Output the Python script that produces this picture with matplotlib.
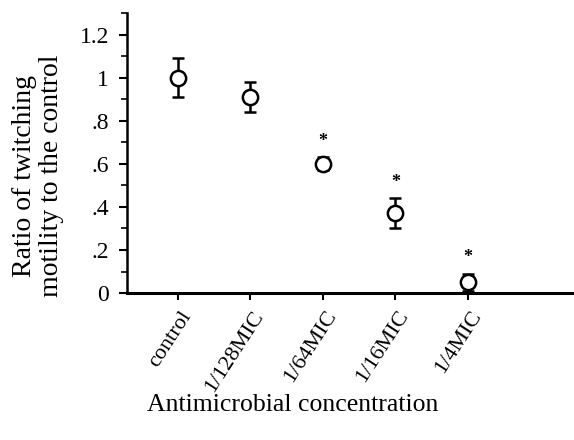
import numpy as np
import matplotlib.pyplot as plt
from matplotlib.ticker import MultipleLocator

plt.rcParams['font.family'] = ['Liberation Serif', 'DejaVu Serif']

# data
groups = ['control', '1/128MIC', '1/64MIC', '1/16MIC', '1/4MIC']
ratio = [1.00, 0.91, 0.60, 0.37, 0.05]
err = [0.09, 0.07, 0.03, 0.07, 0.04]
signif = [False, False, True, True, True]
ytick_vals = [0, 0.2, 0.4, 0.6, 0.8, 1.0, 1.2]
ytick_text = ['0', '.2', '.4', '.6', '.8', '1', '1.2']

fig = plt.figure(figsize=(5.74, 4.4), dpi=100)
ax = fig.add_axes([0.221, 0.334, 0.779, 0.636])

x = np.arange(1, len(groups) + 1)
ax.errorbar(x, ratio, yerr=err, fmt='o', mfc='white', mec='black', ms=11,
            mew=1.8, ecolor='black', elinewidth=1.8, capsize=4.5, capthick=2)
for xi, yi, e, s in zip(x, ratio, err, signif):
    if s:
        ax.text(xi, yi + e + 0.035, '*', ha='center', va='bottom', fontsize=13,
                fontweight='bold')

ax.set_xlim(0.30, 6.46)
ax.set_ylim(0, 1.30)
ax.set_xticks(x)
ax.set_xticklabels([])
# rotated category labels, a little to the right of each tick
for xi, g in zip(x, groups):
    ax.annotate(g, xy=(xi, 0), xycoords=('data', 'axes fraction'),
                xytext=(7, -14), textcoords='offset points', rotation=57,
                ha='right', va='center', rotation_mode='anchor', fontsize=16,
                annotation_clip=False)
ax.set_yticks(ytick_vals)
ax.set_yticklabels(ytick_text, fontsize=17)
ax.yaxis.set_minor_locator(MultipleLocator(0.1))

for side in ['top', 'right']:
    ax.spines[side].set_visible(False)
ax.spines['left'].set_linewidth(1.8)
ax.spines['bottom'].set_linewidth(2.2)
ax.tick_params(axis='y', which='major', direction='out', length=6, width=1.5, pad=7)
ax.tick_params(axis='y', which='minor', direction='out', length=4, width=1.2)
ax.tick_params(axis='x', direction='out', length=5, width=1.5)

fig.text(0.066, 0.60, 'Ratio of twitching\nmotility to the control', rotation=90,
         ha='center', va='center', fontsize=20, linespacing=1.1)
fig.text(0.51, 0.08, 'Antimicrobial concentration', ha='center', va='center',
         fontsize=18.5)

fig.savefig('out.png', dpi=100)
